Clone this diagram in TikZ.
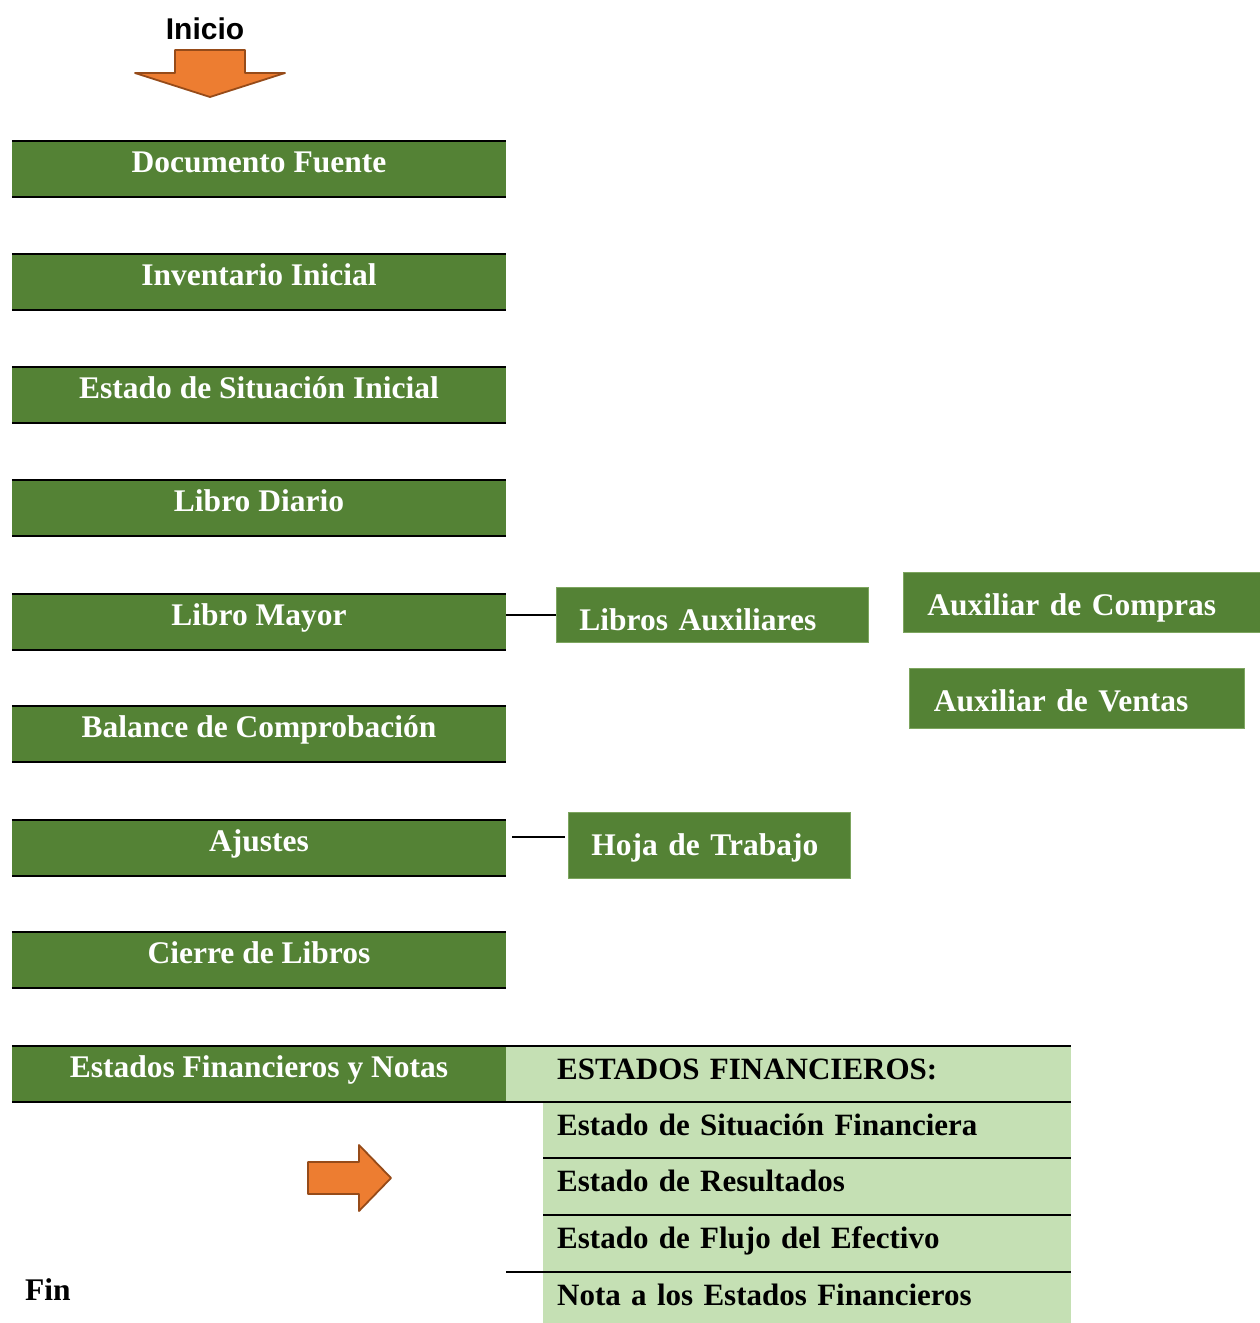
\documentclass[tikz,border=0pt]{standalone}
\usepackage{fontspec}
\setmainfont{Liberation Serif}
\newfontfamily\arialfont{Liberation Sans}

\definecolor{verde}{RGB}{84,130,53}
\definecolor{verdeclaro}{RGB}{197,224,180}
\definecolor{verdeborde}{RGB}{125,165,95}
\definecolor{naranja}{RGB}{237,125,49}
\definecolor{naranjaborde}{RGB}{150,75,25}

\newcommand{\letra}{\fontsize{31.5}{36}\selectfont\bfseries}
\newcommand{\letrafila}{\fontsize{31}{36}\selectfont\bfseries}

\tikzset{
    etapa/.style={fill=verde, text=white, font=\letra, minimum width=494pt,
        inner sep=0pt, text height=31pt, text depth=25pt, anchor=north},
    auxiliar/.style={fill=verde, draw=verdeborde, line width=0.8pt, text=white, font=\letra,
        inner ysep=0pt, inner xsep=23pt, align=left, text height=43pt, anchor=north west},
    fila/.style={fill=verdeclaro, text=black, font=\letrafila, inner ysep=0pt, inner xsep=14pt,
        align=left, text height=33pt, text depth=23pt, anchor=north west},
    raya/.style={line width=2pt, black},
    conector/.style={line width=1.8pt, black},
    flecha/.style={fill=naranja, draw=naranjaborde, line width=1.8pt, line join=round}
}

\begin{document}
\begin{tikzpicture}[x=1pt,y=-1pt]
    \useasboundingbox (0,0) rectangle (1260,1323);

    % inicio
    \node[font=\arialfont\fontsize{30}{36}\selectfont\bfseries] (inicio) at (205,29) {Inicio};
    \draw[flecha] (175,50) -- (245,50) -- (245,73) -- (285,73) -- (210,97) -- (135,73) -- (175,73) -- cycle;

    % etapas del ciclo
    \node[etapa] (documento) at (259,141) {Documento Fuente};
    \node[etapa] (inventario) at (259,254) {Inventario Inicial};
    \node[etapa] (situacion) at (259,367) {Estado de Situación Inicial};
    \node[etapa] (diario) at (259,480) {Libro Diario};
    \node[etapa] (mayor) at (259,594) {Libro Mayor};
    \node[etapa] (balance) at (259,706) {Balance de Comprobación};
    \node[etapa] (ajustes) at (259,820) {Ajustes};
    \node[etapa] (cierre) at (259,932) {Cierre de Libros};
    \node[etapa] (estados) at (259,1046) {Estados Financieros y Notas};

    \foreach \n in {documento,inventario,situacion,diario,mayor,balance,ajustes,cierre} {
        \draw[raya] (\n.north west) -- (\n.north east);
        \draw[raya] (\n.south west) -- (\n.south east);
    }

    % libros auxiliares
    \node[auxiliar, text width=266pt, text depth=12pt] (librosaux) at (556,587) {Libros Auxiliares};
    \node[auxiliar, inner xsep=24pt, text width=309pt, text depth=17pt] (compras) at (903,572) {Auxiliar de Compras};
    \node[auxiliar, inner xsep=24.5pt, text width=286pt, text depth=17pt] (ventas) at (909,668) {Auxiliar de Ventas};
    \draw[conector] (librosaux.west) -- (librosaux.west -| mayor.east);

    % hoja de trabajo
    \node[auxiliar, text width=236pt, text depth=23pt] (hoja) at (568,812) {Hoja de Trabajo};
    \coordinate (ajustesfin) at (512,837);
    \draw[conector] (ajustesfin) -- ([xshift=-3pt]ajustesfin -| hoja.west);

    % estados financieros
    \node[fila, inner xsep=51pt, text width=463pt] (ef0) at (506,1046) {ESTADOS FINANCIEROS:};
    \node[fila, text width=500pt] (ef1) at (543,1102) {Estado de Situación Financiera};
    \node[fila, text width=500pt, text depth=24pt] (ef2) at (543,1158) {Estado de Resultados};
    \node[fila, text width=500pt, text depth=24pt] (ef3) at (543,1215) {Estado de Flujo del Efectivo};
    \node[fila, text width=500pt, text depth=18pt] (ef4) at (543,1272) {Nota a los Estados Financieros};

    \draw[raya] (estados.north west) -- (ef0.north east);
    \draw[raya] (estados.south west) -- (ef0.south east);
    \draw[raya] (ef2.north west) -- (ef2.north east);
    \draw[raya] (ef3.north west) -- (ef3.north east);
    \draw[raya] (ef4.north -| estados.east) -- (ef4.north east);

    % fin
    \draw[flecha] (308,1162) -- (359,1162) -- (359,1145) -- (391,1178) -- (359,1211) -- (359,1194) -- (308,1194) -- cycle;
    \node[font=\letra] (fin) at (48,1290) {Fin};
\end{tikzpicture}
\end{document}
